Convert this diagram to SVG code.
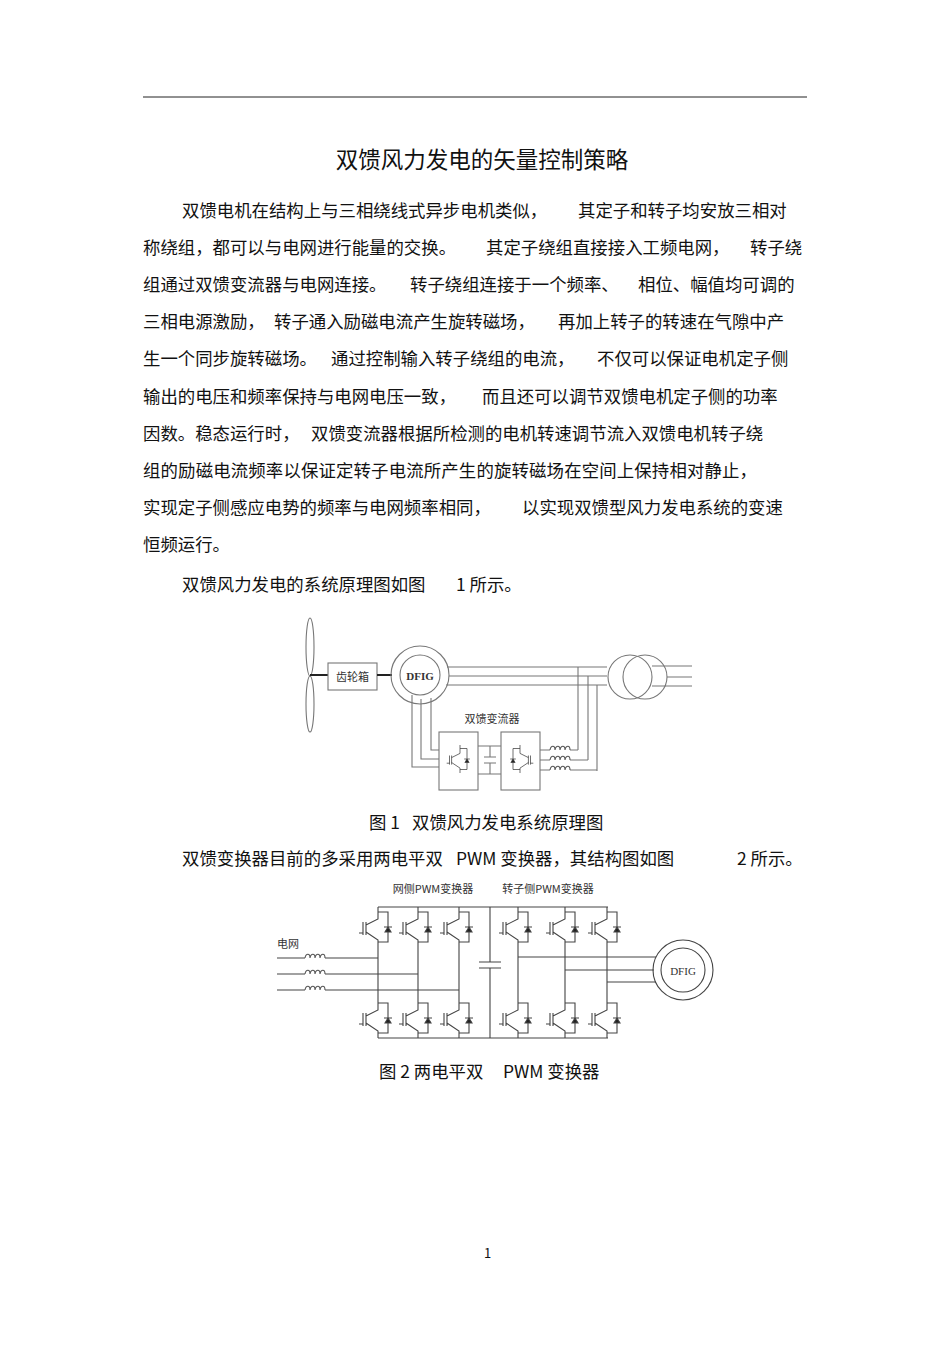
<svg xmlns="http://www.w3.org/2000/svg" xmlns:xlink="http://www.w3.org/1999/xlink" width="950" height="1345" viewBox="0 0 950 1345">
<style>
.t{font-family:"Noto Sans CJK SC","Liberation Sans",sans-serif;font-size:17.4px;fill:#111}
.s{font-family:"Noto Sans CJK SC","Liberation Serif",serif;font-size:11px;fill:#333}
.w{fill:none;stroke:#444;stroke-width:1.1}
.g{fill:none;stroke:#777;stroke-width:1.1}
</style>
<defs>
<g id="sw" class="w">
<path d="M0,0V12L-12,18M-12,15V28M-15,15V28M-19,26H-15M-12,25L0,33V40M0,5H10V35H0"/>
<path d="M6,20H14M7,25L10,20L13,25Z" fill="#222"/>
</g>
<path id="ind" d="M0,0c1,-5 5,-5 5,0c1,-5 5,-5 5,0c1,-5 5,-5 5,0c1,-5 5,-5 5,0" fill="none" stroke="#555" stroke-width="1.1"/>
</defs>
<rect width="950" height="1345" fill="#fff"/>
<line x1="143" y1="97" x2="807" y2="97" stroke="#222" stroke-width="1"/>
<text x="482" y="168" text-anchor="middle" class="t" style="font-size:22.5px">双馈风力发电的矢量控制策略</text>
<g class="t">
<text x="182" y="217">双馈电机在结构上与三相绕线式异步电机类似，</text><text x="578" y="217">其定子和转子均安放三相对</text>
<text x="143" y="254">称绕组，都可以与电网进行能量的交换。</text><text x="486" y="254">其定子绕组直接接入工频电网，</text><text x="750" y="254">转子绕</text>
<text x="143" y="291">组通过双馈变流器与电网连接。</text><text x="410" y="291">转子绕组连接于一个频率、</text><text x="638" y="291">相位、幅值均可调的</text>
<text x="143" y="328">三相电源激励，</text><text x="274" y="328">转子通入励磁电流产生旋转磁场，</text><text x="558" y="328">再加上转子的转速在气隙中产</text>
<text x="143" y="365">生一个同步旋转磁场。</text><text x="331" y="365">通过控制输入转子绕组的电流，</text><text x="597" y="365">不仅可以保证电机定子侧</text>
<text x="143" y="403">输出的电压和频率保持与电网电压一致，</text><text x="482" y="403">而且还可以调节双馈电机定子侧的功率</text>
<text x="143" y="440">因数。稳态运行时，</text><text x="311" y="440">双馈变流器根据所检测的电机转速调节流入双馈电机转子绕</text>
<text x="143" y="477" textLength="614">组的励磁电流频率以保证定转子电流所产生的旋转磁场在空间上保持相对静止，</text>
<text x="143" y="514">实现定子侧感应电势的频率与电网频率相同，</text><text x="522" y="514">以实现双馈型风力发电系统的变速</text>
<text x="143" y="551">恒频运行。</text>
<text x="182" y="591">双馈风力发电的系统原理图如图</text><text x="456" y="591">1 所示。</text>
<text x="369" y="829">图 1</text><text x="412" y="829">双馈风力发电系统原理图</text>
<text x="182" y="865">双馈变换器目前的多采用两电平双</text><text x="456" y="865">PWM 变换器，其结构图如图</text><text x="737" y="865">2 所示。</text>
<text x="379" y="1078">图 2 两电平双</text><text x="503" y="1078">PWM 变换器</text>
<text x="484" y="1258" style="font-size:13px">1</text>
</g>
<!-- Figure 1 -->
<g id="turbine" class="g"><ellipse cx="310" cy="647" rx="4" ry="29"/><ellipse cx="310" cy="704" rx="4" ry="28"/><path d="M310,675H328" stroke="#222" stroke-width="2"/></g>
<g id="gearbox"><rect x="328" y="663" width="49" height="27" class="g"/><text x="352.5" y="681" text-anchor="middle" class="s">齿轮箱</text><path d="M377,675H392" stroke="#222" stroke-width="2"/></g>
<g id="dfig1"><circle cx="420" cy="675" r="29" class="g"/><circle cx="420" cy="675" r="20" class="g"/><text x="420" y="680" text-anchor="middle" class="s" style="font-weight:bold;font-family:'Liberation Serif',serif">DFIG</text></g>
<g id="transformer" class="g"><circle cx="630" cy="677" r="22"/><circle cx="645" cy="677" r="22"/></g>
<g id="conv1" class="g"><rect x="439" y="732" width="39" height="58"/><rect x="501" y="732" width="39" height="58"/></g>
<g id="conv1in" transform="translate(460,745) scale(0.7)"><use href="#sw"/></g>
<g id="conv1out" transform="translate(520,745) scale(-0.7,0.7)"><use href="#sw"/></g>
<text x="492" y="723" text-anchor="middle" class="s">双馈变流器</text>
<g id="wires1" class="g">
<path d="M447,667H607M449,676H607M446,685H607M652,666H692M667,677H692M652,686H692"/>
<path d="M578,667V750M588,676V760M597,685V771"/>
<path d="M412,695V767H439M421,699V759H439M431,698V750H439"/>
<path d="M478,746H501M478,774H501M490,746V757M490,763V774M484,757H496M484,763H496"/>
<path d="M540,750H550M570,750H578M540,760H550M570,760H588M540,770H550M570,770H597"/>
</g>
<use href="#ind" x="550" y="750"/><use href="#ind" x="550" y="760"/><use href="#ind" x="550" y="770"/>
<!-- Figure 2 -->
<text x="433" y="893" text-anchor="middle" class="s">网侧PWM变换器</text>
<text x="548" y="893" text-anchor="middle" class="s">转子侧PWM变换器</text>
<text x="277" y="948" class="s">电网</text>
<g id="bus" class="w">
<path d="M378,907H608M378,1038H608M490,907V962M490,968V1038M479,962H501M479,968H501"/>
<path d="M378,947V998M418,947V998M459,947V998M518,947V998M565,947V998M607,947V998"/>
<path d="M277,958H305M325,958H378M277,974H305M325,974H418M277,990H305M325,990H459"/>
<path d="M518,957H656M565,970H654M607,982H656"/>
</g>
<use href="#ind" x="305" y="958"/><use href="#ind" x="305" y="974"/><use href="#ind" x="305" y="990"/>
<g id="switches">
<use href="#sw" x="378" y="907"/><use href="#sw" x="418" y="907"/><use href="#sw" x="459" y="907"/>
<use href="#sw" x="518" y="907"/><use href="#sw" x="565" y="907"/><use href="#sw" x="607" y="907"/>
<use href="#sw" x="378" y="998"/><use href="#sw" x="418" y="998"/><use href="#sw" x="459" y="998"/>
<use href="#sw" x="518" y="998"/><use href="#sw" x="565" y="998"/><use href="#sw" x="607" y="998"/>
</g>
<g id="dfig2"><circle cx="683" cy="970" r="30" class="w"/><circle cx="683" cy="970" r="22" class="w"/><text x="683" y="975" text-anchor="middle" class="s" style="font-family:'Liberation Serif',serif">DFIG</text></g>
</svg>
